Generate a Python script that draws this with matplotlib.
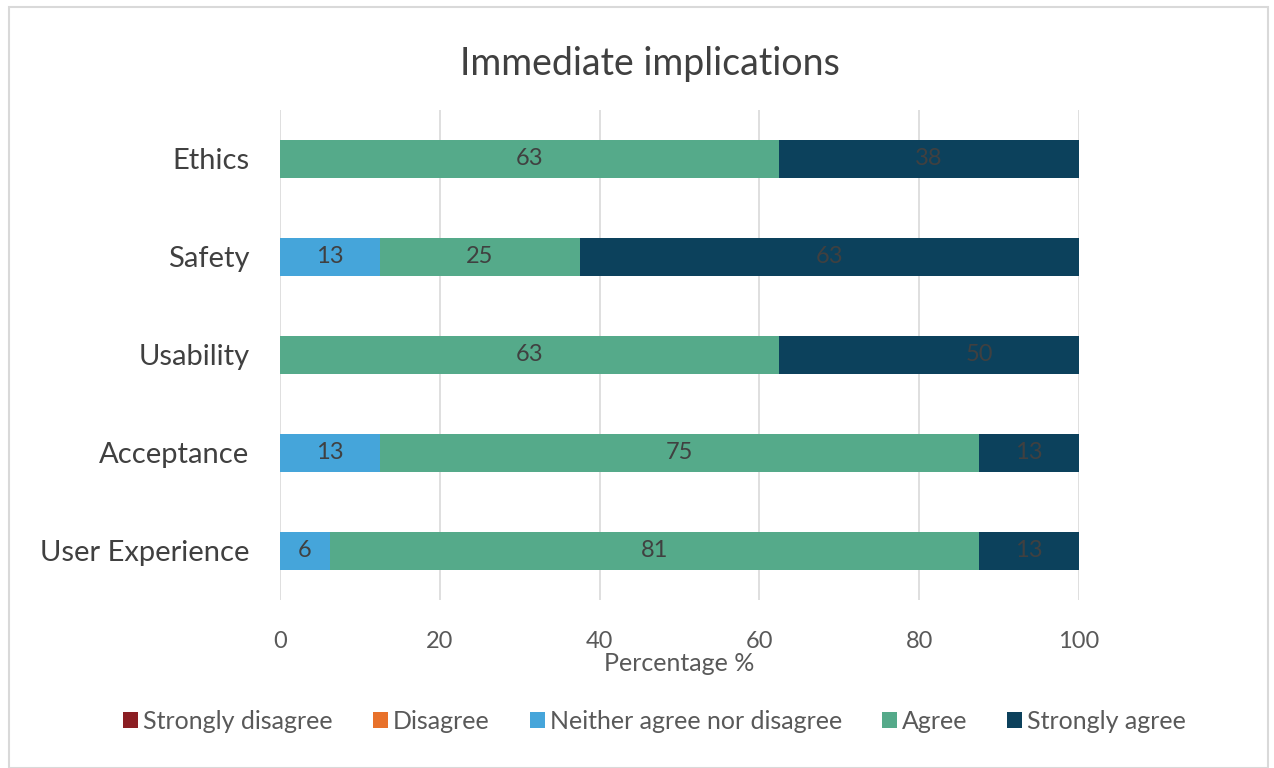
import matplotlib.pyplot as plt
from matplotlib.patches import Rectangle

plt.rcParams['font.family'] = ['Lato', 'DejaVu Sans']

# survey results, percent of respondents
categories = ['Ethics', 'Safety', 'Usability', 'Acceptance', 'User Experience']
levels = ['Strongly disagree', 'Disagree', 'Neither agree nor disagree', 'Agree', 'Strongly agree']
strongly_disagree = [0, 0, 0, 0, 0]
disagree = [0, 0, 0, 0, 0]
neither = [0, 12.5, 0, 12.5, 6.25]
agree = [62.5, 25, 62.5, 75, 81.25]
strongly_agree = [37.5, 62.5, 50, 12.5, 12.5]
xticks = [0, 20, 40, 60, 80, 100]

colors = ['#8B1E23', '#E8712A', '#45A5DA', '#55AA8A', '#0C415C']
series = [strongly_disagree, disagree, neither, agree, strongly_agree]

fig = plt.figure(figsize=(12.74, 7.68), dpi=100)
ax = fig.add_axes([0.2198, 0.2188, 0.627, 0.638])

ypos = list(range(len(categories)))[::-1]
left = [0] * len(categories)
for name, vals, c in zip(levels, series, colors):
    ax.barh(ypos, vals, left=left, height=0.39, color=c, label=name, zorder=2)
    for y, l, v in zip(ypos, left, vals):
        if v > 0:
            ax.text(l + v / 2, y, str(int(v + 0.5)), ha='center', va='center',
                    fontsize=17, color='#404040', zorder=3)
    left = [a + b for a, b in zip(left, vals)]

ax.set_xlim(0, 100)
ax.set_ylim(-0.5, 4.5)
ax.set_yticks(ypos)
ax.set_yticklabels(categories, fontsize=21, color='#404040')
ax.set_xticks(xticks)
ax.set_xticklabels([str(t) for t in xticks], fontsize=17, color='#595959')
ax.tick_params(axis='both', length=0)
ax.tick_params(axis='x', pad=22)
ax.tick_params(axis='y', pad=22)
ax.grid(axis='x', color='#D9D9D9', linewidth=1.2, zorder=0)
for s in ax.spines.values():
    s.set_visible(False)

ax.set_xlabel('Percentage %', fontsize=18, color='#595959', labelpad=0)
fig.suptitle('Immediate implications', fontsize=27, color='#404040', x=0.51, y=0.94)

leg = fig.legend(loc='center', bbox_to_anchor=(0.514, 0.061), ncol=5, frameon=False,
                 fontsize=18, handlelength=0.6, handleheight=0.6, handletextpad=0.2,
                 columnspacing=1.6)
for t in leg.get_texts():
    t.set_color('#595959')

fig.patches.append(Rectangle((0.007, 0.0), 0.988, 0.991, transform=fig.transFigure,
                             fill=False, edgecolor='#D9D9D9', linewidth=1.5))

fig.savefig('out.png', dpi=100)
